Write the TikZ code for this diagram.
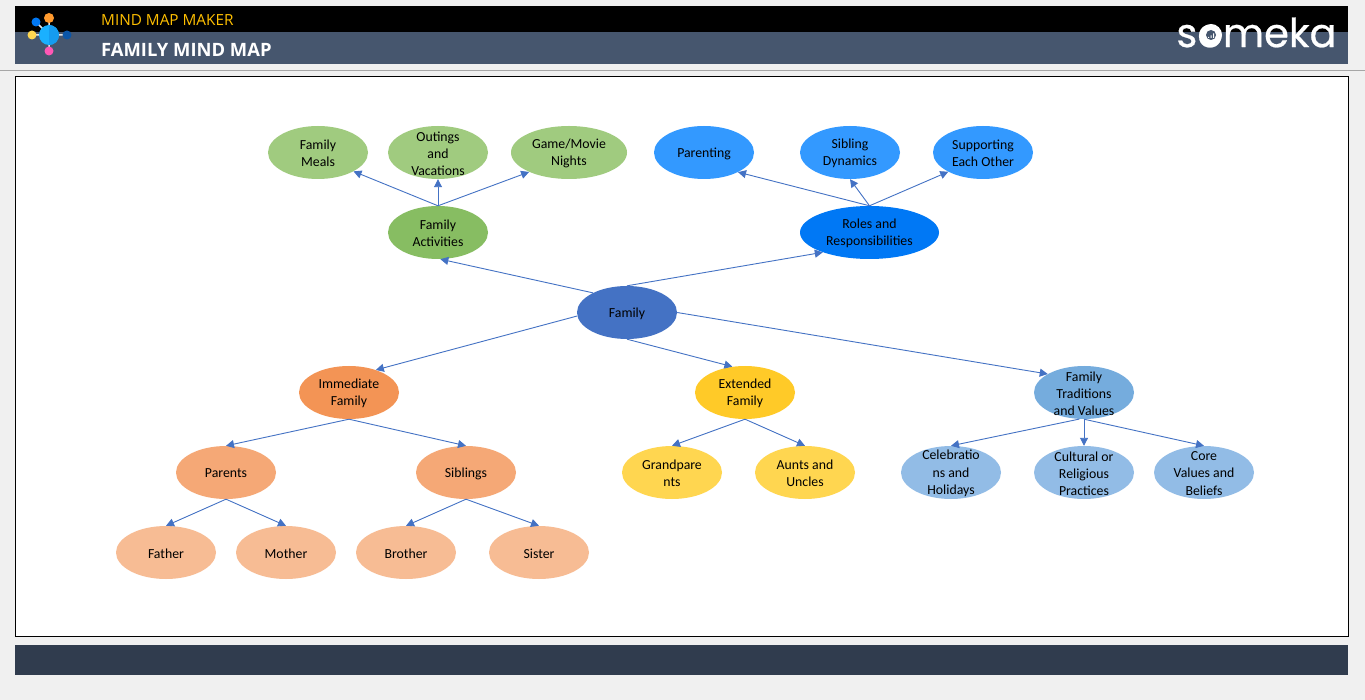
\documentclass[tikz,border=0pt]{standalone}
\usepackage{fontspec}
\setmainfont{Carlito}
\newfontfamily\headfont{Open Sans}
\newfontfamily\logofont[FakeBold=0.6]{Poppins}
\usetikzlibrary{arrows.meta,shapes.geometric}
\definecolor{pagegrey}{HTML}{F0F0F0}
\definecolor{slate}{HTML}{46566E}
\definecolor{footslate}{HTML}{303C4E}
\definecolor{linkblue}{HTML}{4472C4}
\definecolor{makergold}{HTML}{FFC000}
\definecolor{greenmid}{HTML}{87BD62}
\definecolor{greenpale}{HTML}{A0CB7F}
\definecolor{bluemid}{HTML}{0078F5}
\definecolor{bluepale}{HTML}{3399FF}
\definecolor{orangemid}{HTML}{F39455}
\definecolor{orangepale}{HTML}{F5A876}
\definecolor{orangelight}{HTML}{F7BC94}
\definecolor{goldmid}{HTML}{FFCA28}
\definecolor{goldpale}{HTML}{FFD650}
\definecolor{skymid}{HTML}{75ACDD}
\definecolor{skypale}{HTML}{92BCE6}
\definecolor{hubleft}{HTML}{1AB0FF}
\definecolor{hubright}{HTML}{159CF0}
\definecolor{dotorange}{HTML}{FF9A2E}
\definecolor{dotblue}{HTML}{0B56A8}
\definecolor{dotpink}{HTML}{FF57B5}

\begin{document}
\begin{tikzpicture}[x=1pt,y=-1pt]
        \tikzstyle{every label}=[align=center,inner sep=0pt,yshift=-1pt,font=\fontsize{13.8}{17.2}\selectfont,text=black]
        \tikzstyle{bubble}=[ellipse,inner sep=0pt,yshift=-0.5pt,minimum width=100pt,minimum height=53pt]
        \tikzstyle{link}=[draw=linkblue,line width=0.9pt,-{Triangle[length=8pt,width=8pt]}]
        \useasboundingbox (0,0) rectangle (1365,700);
        \fill[pagegrey] (0,0) rectangle (1365,700);
        % header
        \fill[black] (15,6) rectangle (1348,32);
        \fill[slate] (15,32) rectangle (1348,64);
        \draw[black!35,line width=1pt] (0,70.5) -- (1365,70.5);
        \node[anchor=west,inner sep=0pt,text=makergold,font=\headfont\fontsize{15.3}{17}\selectfont] (maker) at (101,20.5) {MIND MAP MAKER};
        \node[anchor=west,inner sep=0pt,text=white,font=\headfont\bfseries\fontsize{18.4}{20}\selectfont] (title) at (101,49.5) {FAMILY MIND MAP};
        \node[anchor=center,inner sep=0pt,text=white,font=\logofont\fontsize{40}{40}\selectfont] (brand) at (1256.5,32.5) {someka};
        \fill[white] (1211,35) circle (11);
        \fill[slate] (1211,35) circle (5);
        \fill[white] (1208,37) rectangle (1209,38) (1210.5,35.5) rectangle (1211.5,38) (1213,33.5) rectangle (1214,38);
        % logo
        \draw[white!90!black,line width=1.5pt] (36,22) -- (49,35) (49,18) -- (49,51) (32,35) -- (67,35);
        \fill[dotorange] (49,18) circle (5);
        \fill[bluemid] (36,22) circle (4.5);
        \fill[goldpale] (32,35) circle (4.5);
        \fill[dotblue] (67,35) circle (4.5);
        \fill[dotpink] (49,51) circle (4.5);
        \fill[hubleft] (49,35) circle (10);
        \fill[hubright] (49,25) arc (90:-90:10pt) -- cycle;
        % frame and footer
        \draw[black,fill=white,line width=1pt] (15.5,76.5) rectangle (1348.5,636.5);
        \fill[footslate] (15,645) rectangle (1348,675);
        % root
        \node[bubble,fill=linkblue,label={center:Family}] (family) at (627,312) {};
        % activities branch
        \node[bubble,fill=greenmid,label={center:{Family\\Activities}}] (activities) at (438,232) {};
        \node[bubble,fill=greenpale,label={center:{Family\\Meals}}] (meals) at (318,152) {};
        \node[bubble,fill=greenpale,label={center:{Outings\\and\\Vacations}}] (outings) at (438,152) {};
        \node[bubble,fill=greenpale,minimum width=116pt,label={center:{Game/Movie\\Nights}}] (games) at (569,152) {};
        % roles branch
        \node[bubble,fill=bluemid,minimum width=139pt,label={center:{Roles and\\Responsibilities}}] (roles) at (869.5,232) {};
        \node[bubble,fill=bluepale,label={center:Parenting}] (parenting) at (704,152) {};
        \node[bubble,fill=bluepale,label={center:{Sibling\\Dynamics}}] (sibling) at (850,152) {};
        \node[bubble,fill=bluepale,label={center:{Supporting\\Each Other}}] (supporting) at (983,152) {};
        % immediate family branch
        \node[bubble,fill=orangemid,label={center:{Immediate\\Family}}] (immediate) at (349,392) {};
        \node[bubble,fill=orangepale,label={center:Parents}] (parents) at (226,472) {};
        \node[bubble,fill=orangepale,label={center:Siblings}] (siblings) at (466,472) {};
        \node[bubble,fill=orangelight,label={center:Father}] (father) at (166,552) {};
        \node[bubble,fill=orangelight,label={center:Mother}] (mother) at (286,552) {};
        \node[bubble,fill=orangelight,label={center:Brother}] (brother) at (406,552) {};
        \node[bubble,fill=orangelight,label={center:Sister}] (sister) at (539,552) {};
        % extended family branch
        \node[bubble,fill=goldmid,label={center:{Extended\\Family}}] (extended) at (745,392) {};
        \node[bubble,fill=goldpale,label={center:{Grandpare\\nts}}] (grandparents) at (672,472) {};
        \node[bubble,fill=goldpale,label={center:{Aunts and\\Uncles}}] (aunts) at (805,472) {};
        % traditions branch
        \node[bubble,fill=skymid,label={center:{Family\\Traditions\\and Values}}] (traditions) at (1084,392) {};
        \node[bubble,fill=skypale,label={center:{Celebratio\\ns and\\Holidays}}] (celebrations) at (951,472) {};
        \node[bubble,fill=skypale,label={center:{Cultural or\\Religious\\Practices}}] (cultural) at (1084,472) {};
        \node[bubble,fill=skypale,label={center:{Core\\Values and\\Beliefs}}] (core) at (1204,472) {};
        % connectors
        \foreach \from/\to in {family.150/activities.-85,family.north/roles.203,family.184/immediate.40,
                family.south/extended.116,family.east/traditions.153,
                activities.north/meals.-28,activities.north/outings.south,activities.north/games.-154,
                roles.north/parenting.-30,roles.north/sibling.south,roles.north/supporting.-151,
                immediate.south/parents.north,immediate.south/siblings.north,
                parents.south/father.north,parents.south/mother.north,
                siblings.south/brother.north,siblings.south/sister.north,
                extended.south/grandparents.north,extended.south/aunts.north,
                traditions.-100/celebrations.north,traditions.south/cultural.north,traditions.south/core.north}
            \draw[link] (\from) -- (\to);
\end{tikzpicture}
\end{document}
